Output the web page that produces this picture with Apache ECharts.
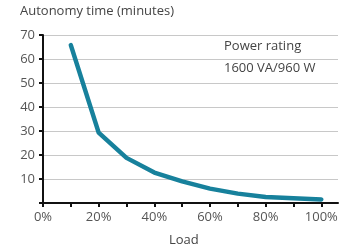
<!DOCTYPE html>
<html><head><meta charset="utf-8">
<script src="https://cdn.jsdelivr.net/npm/echarts@6/dist/echarts.min.js"></script>
<style>html,body{margin:0;padding:0;background:#fff}#c{width:352px;height:252px}</style>
</head><body><div id="c"></div>
<script>
const loadPct = [10, 20, 30, 40, 50, 60, 70, 80, 90, 100];
const autonomyMinutes = [65.8, 29.3, 18.8, 12.7, 9, 6, 3.9, 2.5, 2, 1.5];
const xTickLabels = ['0%', '20%', '40%', '60%', '80%', '100%'];
const yTickLabels = ['10', '20', '30', '40', '50', '60', '70'];
const titleText = 'Autonomy time (minutes)';
const xAxisTitle = 'Load';
const noteLines = ['Power rating', '1600 VA/960 W'];

const FONT = 'Open Sans';
const chart = echarts.init(document.getElementById('c'));
chart.setOption({
  animation: false,
  grid: { left: 43, right: 14, top: 35, bottom: 49 },
  xAxis: {
    type: 'value', min: 0, max: 106, interval: 10,
    axisLine: { show: true, lineStyle: { color: '#111', width: 2 } },
    axisTick: { show: true, length: 4, lineStyle: { color: '#111', width: 2 } },
    splitLine: { show: false },
    axisLabel: {
      color: '#555', fontFamily: FONT, fontSize: 13, margin: 8,
      showMaxLabel: false,
      formatter: v => { const s = Math.round(v) + '%'; return xTickLabels.includes(s) ? s : ''; }
    }
  },
  yAxis: {
    type: 'value', min: 0, max: 70, interval: 10,
    axisLine: { show: true, lineStyle: { color: '#111', width: 2 } },
    axisTick: { show: true, length: 4, lineStyle: { color: '#111', width: 2 } },
    splitLine: { show: true, lineStyle: { color: '#c8c8c8', width: 1 } },
    axisLabel: {
      color: '#555', fontFamily: FONT, fontSize: 13, margin: 8,
      formatter: v => { const s = String(Math.round(v)); return yTickLabels.includes(s) ? s : ''; }
    }
  },
  series: [{
    type: 'line',
    data: loadPct.map((x, i) => [x, autonomyMinutes[i]]),
    showSymbol: false,
    lineStyle: { color: '#17819c', width: 4.5, cap: 'round', join: 'round' }
  }],
  graphic: [
    { type: 'text', left: 20, top: 5, style: { text: titleText, fill: '#444', font: '13px ' + FONT } },
    { type: 'text', left: 169, top: 234, style: { text: xAxisTitle, fill: '#444', font: '13px ' + FONT } },
    { type: 'text', left: 224, top: 40, style: { text: noteLines[0], fill: '#444', font: '13px ' + FONT } },
    { type: 'text', left: 224, top: 62, style: { text: noteLines[1], fill: '#444', font: '13px ' + FONT } }
  ]
});
</script></body></html>
